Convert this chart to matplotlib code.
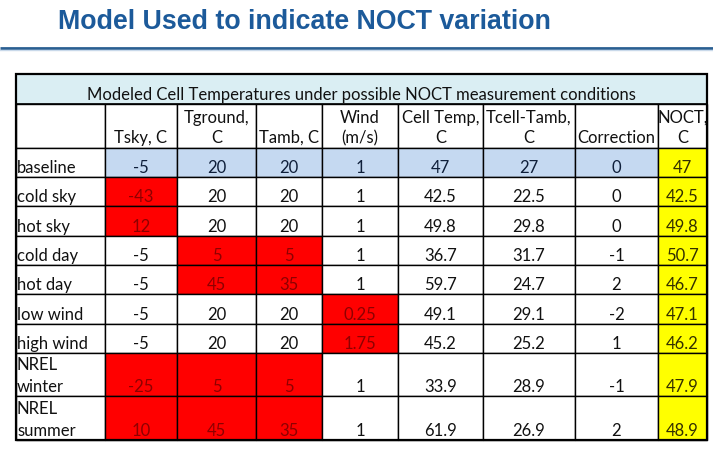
import matplotlib
matplotlib.use("Agg")
import matplotlib.pyplot as plt
from matplotlib.patches import Rectangle

# table data
title = "Model Used to indicate NOCT variation"
table_title = "Modeled Cell Temperatures under possible NOCT measurement conditions"
col_headers = ["", "Tsky, C", "Tground,\nC", "Tamb, C", "Wind\n(m/s)",
               "Cell Temp,\nC", "Tcell-Tamb,\nC", "Correction", "NOCT,\nC"]
row_labels = ["baseline", "cold sky", "hot sky", "cold day", "hot day",
              "low wind", "high wind", "NREL\nwinter", "NREL\nsummer"]
tsky = ["-5", "-43", "12", "-5", "-5", "-5", "-5", "-25", "10"]
tground = ["20", "20", "20", "5", "45", "20", "20", "5", "45"]
tamb = ["20", "20", "20", "5", "35", "20", "20", "5", "35"]
wind = ["1", "1", "1", "1", "1", "0.25", "1.75", "1", "1"]
cell_temp = ["47", "42.5", "49.8", "36.7", "59.7", "49.1", "45.2", "33.9", "61.9"]
tcell_tamb = ["27", "22.5", "29.8", "31.7", "24.7", "29.1", "25.2", "28.9", "26.9"]
correction = ["0", "0", "0", "-1", "2", "-2", "1", "-1", "2"]
noct = ["47", "42.5", "49.8", "50.7", "46.7", "47.1", "46.2", "47.9", "48.9"]

# cells that were changed from baseline (row, col)
changed = [(1, 1), (2, 1), (3, 2), (3, 3), (4, 2), (4, 3), (5, 4), (6, 4),
           (7, 1), (7, 2), (7, 3), (8, 1), (8, 2), (8, 3)]

# layout in pixels
col_x = [16, 105, 177, 256, 322, 398, 483, 575, 658, 707]
top = 75
title_row_h = 30
head_row_h = 44
row_h = [29, 29.3, 29.3, 29.3, 29.3, 29.3, 29.3, 43.5, 43.5]

fig = plt.figure(figsize=(7.13, 4.77), dpi=100)
ax = fig.add_axes([0, 0, 1, 1])
ax.set_xlim(0, 713)
ax.set_ylim(477, 0)
ax.axis("off")

fnt = "Lato"
fs = 12

fig.text(58 / 713, 1 - 29 / 477, title, fontsize=19.3, fontweight="bold",
         color="#1c5a9a", family="Liberation Sans", va="baseline")
ax.plot([0, 713], [48.5, 48.5], color="#2a5f92", lw=2, solid_capstyle="butt")
ax.plot([0, 713], [50.5, 50.5], color="#c9d9ea", lw=1)

# title row of table
ax.add_patch(Rectangle((col_x[0], top), col_x[-1] - col_x[0], title_row_h,
                       facecolor="#daeef3", edgecolor="black", lw=1.2))
ax.text((col_x[0] + col_x[-1]) / 2, top + title_row_h - 10, table_title,
        ha="center", va="center", fontsize=fs, family=fnt, color="#111111")

# header row
y0 = top + title_row_h
for j, h in enumerate(col_headers):
    ax.add_patch(Rectangle((col_x[j], y0), col_x[j + 1] - col_x[j], head_row_h,
                           facecolor="white", edgecolor="black", lw=1))
    lines = h.split("\n")
    for k, ln in enumerate(reversed(lines)):
        ax.text((col_x[j] + col_x[j + 1]) / 2, y0 + head_row_h - 11 - 20 * k, ln,
                ha="center", va="center", fontsize=fs, family=fnt, color="#111111")

columns = [tsky, tground, tamb, wind, cell_temp, tcell_tamb, correction, noct]
y = y0 + head_row_h
for i, lab in enumerate(row_labels):
    h = row_h[i]
    for j in range(len(col_headers)):
        fc = "white"
        tc = "#111111"
        if i == 0 and 0 < j < 8:
            fc = "#c5d9f1"
            tc = "#0f1f3a"
        if (i, j) in changed:
            fc = "#ff0000"
            tc = "#8e0000"
        if j == 8:
            fc = "#ffff00"
            tc = "#333000"
        ax.add_patch(Rectangle((col_x[j], y), col_x[j + 1] - col_x[j], h,
                               facecolor=fc, edgecolor="black", lw=1))
        if j == 0:
            lines = lab.split("\n")
            for k, ln in enumerate(reversed(lines)):
                ax.text(col_x[0] + 1, y + h - 10 - 22 * k, ln, ha="left",
                        va="center", fontsize=fs, family=fnt, color="#111111")
        else:
            ax.text((col_x[j] + col_x[j + 1]) / 2, y + h - 10, columns[j - 1][i],
                    ha="center", va="center", fontsize=fs, family=fnt, color=tc)
    y += h

# outer border
ax.add_patch(Rectangle((col_x[0], top), col_x[-1] - col_x[0], y - top,
                       facecolor="none", edgecolor="black", lw=1.6))

fig.savefig("out.png", dpi=100)
